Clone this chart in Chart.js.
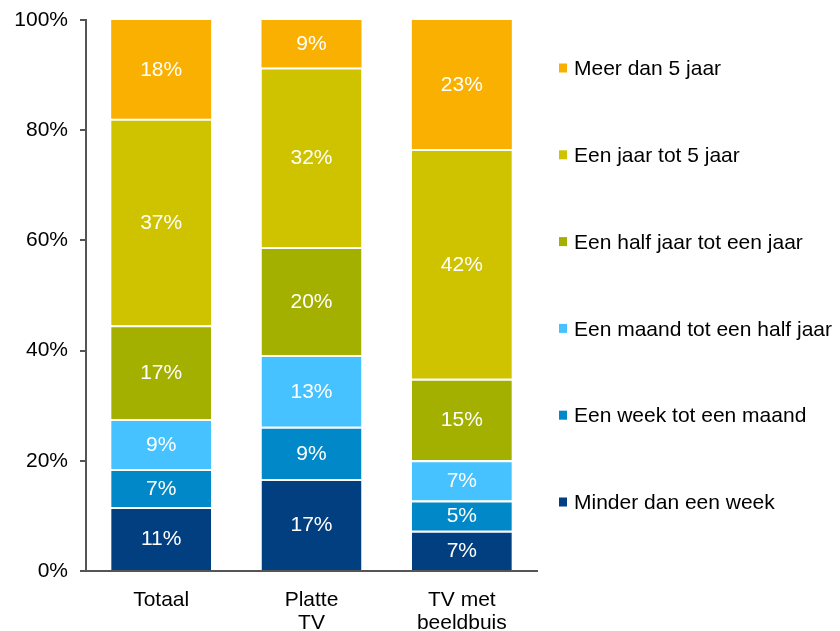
<!DOCTYPE html>
<html>
<head>
<meta charset="utf-8">
<script src="https://cdn.jsdelivr.net/npm/chart.js"></script>
<style>
  body { margin: 0; background: #fff; }
  #wrap { width: 840px; height: 631px; }
</style>
</head>
<body>
<div id="wrap"><canvas id="barChart" width="840" height="631"></canvas></div>
<script>
// categories and series (percent of each bar)
var categories = ["Totaal", ["Platte", "TV"], ["TV met", "beeldbuis"]];
var seriesNames = [
    "Minder dan een week",
    "Een week tot een maand",
    "Een maand tot een half jaar",
    "Een half jaar tot een jaar",
    "Een jaar tot 5 jaar",
    "Meer dan 5 jaar"
];
var minderWeek   = [11.6, 16.7, 7.3];
var weekMaand    = [6.9, 9.5, 5.5];
var maandHalf    = [9.1, 13.0, 7.3];
var halfJaar     = [17.0, 19.6, 14.8];
var jaarTot5     = [37.5, 32.6, 41.7];
var meerDan5     = [17.9, 8.6, 23.4];
// labels printed on the segments
var minderWeekLbl = ["11%", "17%", "7%"];
var weekMaandLbl  = ["7%", "9%", "5%"];
var maandHalfLbl  = ["9%", "13%", "7%"];
var halfJaarLbl   = ["17%", "20%", "15%"];
var jaarTot5Lbl   = ["37%", "32%", "42%"];
var meerDan5Lbl   = ["18%", "9%", "23%"];
var yTicks = [0, 20, 40, 60, 80, 100];

var colors = ["#023F80", "#0088C8", "#45C2FF", "#A3B000", "#CFC300", "#F9B000"];
var values = [minderWeek, weekMaand, maandHalf, halfJaar, jaarTot5, meerDan5];
var segLabels = [minderWeekLbl, weekMaandLbl, maandHalfLbl, halfJaarLbl, jaarTot5Lbl, meerDan5Lbl];

var FONT = "'Liberation Sans', Arial, sans-serif";

// white percentage text in the middle of every segment
var segmentLabels = {
    id: "segmentLabels",
    afterDatasetsDraw: function (chart) {
        var ctx = chart.ctx;
        ctx.save();
        ctx.fillStyle = "#fff";
        ctx.font = "21px " + FONT;
        ctx.textAlign = "center";
        ctx.textBaseline = "middle";
        chart.data.datasets.forEach(function (ds, i) {
            chart.getDatasetMeta(i).data.forEach(function (bar, j) {
                ctx.fillText(ds.segLabels[j], bar.x, (bar.y + bar.base) / 2 + 1);
            });
        });
        ctx.restore();
    }
};

// legend on the right, top item = last series
var sideLegend = {
    id: "sideLegend",
    afterDraw: function (chart) {
        var ctx = chart.ctx;
        var area = chart.chartArea;
        var n = chart.data.datasets.length;
        ctx.save();
        ctx.font = "21px " + FONT;
        ctx.textBaseline = "middle";
        ctx.textAlign = "left";
        for (var k = 0; k < n; k++) {
            var ds = chart.data.datasets[n - 1 - k];
            var y = area.top + 49.5 + k * 86.8;
            ctx.fillStyle = ds.backgroundColor;
            ctx.fillRect(area.right + 22, y - 6, 8, 9);
            ctx.fillStyle = "#000";
            ctx.fillText(ds.label, area.right + 37, y);
        }
        ctx.restore();
    }
};

document.addEventListener("DOMContentLoaded", function () {
    var ctx = document.getElementById("barChart").getContext("2d");
    var n = seriesNames.length;

    var datasets = seriesNames.map(function (name, i) {
        return {
            label: name,
            data: values[i],
            segLabels: segLabels[i],
            backgroundColor: colors[i],
            borderColor: "#fff",
            borderWidth: { top: i === n - 1 ? 0 : 2, bottom: 0, left: 0, right: 0 },
            borderSkipped: false,
            barPercentage: 0.665,
            categoryPercentage: 1.0
        };
    });

    var barChart = new Chart(ctx, {
        type: "bar",
        data: { labels: categories, datasets: datasets },
        options: {
            responsive: false,
            animation: false,
            layout: { padding: { top: 20, right: 303, bottom: 0, left: 0 } },
            plugins: {
                legend: { display: false },
                tooltip: { enabled: false }
            },
            scales: {
                x: {
                    stacked: true,
                    grid: { drawOnChartArea: false, drawTicks: false },
                    border: { display: true, color: "#555", width: 2 },
                    ticks: {
                        color: "#000",
                        padding: 18,
                        font: { family: FONT, size: 21, lineHeight: 1.1 }
                    },
                    afterFit: function (scale) { scale.height = 60; }
                },
                y: {
                    stacked: true,
                    min: 0,
                    max: 100,
                    afterBuildTicks: function (scale) {
                        scale.ticks = yTicks.map(function (v) { return { value: v }; });
                    },
                    grid: { drawOnChartArea: false, drawTicks: true, tickLength: 6, color: "#555", lineWidth: 2 },
                    border: { display: true, color: "#555", width: 2 },
                    ticks: {
                        color: "#000",
                        padding: 12,
                        font: { family: FONT, size: 21 },
                        callback: function (v) { return v + "%"; }
                    },
                    afterFit: function (scale) {
                        scale.width = 86;
                        scale.paddingTop = 0;
                        scale.paddingBottom = 0;
                    }
                }
            }
        },
        plugins: [segmentLabels, sideLegend]
    });
});
</script>
</body>
</html>
